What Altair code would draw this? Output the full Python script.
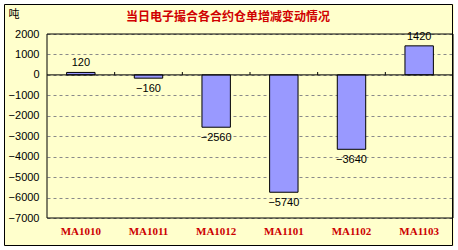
import altair as alt
import pandas as pd

# Warehouse-receipt changes per contract (tonnes)
contracts = ["MA1010", "MA1011", "MA1012", "MA1101", "MA1102", "MA1103"]
changes = [120, -160, -2560, -5740, -3640, 1420]
y_ticks = [-7000, -6000, -5000, -4000, -3000, -2000, -1000, 0, 1000, 2000]

title_text = "当日电子撮合各合约仓单增减变动情况"
unit_text = "吨"

W, H = 406, 184
BG = "#FFFFCC"
CJK = "Noto Sans CJK SC"

df = pd.DataFrame({"contract": contracts, "change": changes})
bounds_df = pd.DataFrame({"contract": contracts[1:], "lo": 0, "hi": 140})
zero_df = pd.DataFrame({"z": [0]})
one = pd.DataFrame({"k": [0]})
title_df = pd.DataFrame({"t": [title_text]})

x_scale = alt.Scale(domain=contracts, paddingInner=0, paddingOuter=0)
y_scale = alt.Scale(domain=[-7000, 2000], nice=False, zero=False)

x_enc = alt.X(
    "contract:N",
    scale=x_scale,
    sort=contracts,
    axis=alt.Axis(
        title=None, ticks=False, domain=False, grid=False, labelAngle=0,
        labelPadding=7, labelFont="Liberation Serif", labelFontWeight="bold",
        labelFontSize=11, labelColor="#CC0000",
    ),
)
y_axis = alt.Axis(
    values=y_ticks, format="d", ticks=False, domain=False, grid=True,
    gridDash=[3, 3], gridColor="#8a8a8a", labelPadding=8, labelOverlap=False,
    labelFont="Liberation Sans", labelFontSize=11, labelColor="black",
    title=unit_text, titleAngle=0, titleX=-39, titleY=-20,
    titleAlign="left", titleBaseline="middle", titleFont=CJK,
    titleFontSize=11, titleFontWeight="normal", titleColor="black",
)
y_enc = alt.Y("change:Q", scale=y_scale, axis=y_axis)

bars = alt.Chart(df).mark_bar(
    width={"band": 0.42}, fill="#9999FF", stroke="black", strokeWidth=1
).encode(x=x_enc, y=y_enc, y2=alt.datum(0))

zero_line = alt.Chart(zero_df).mark_rule(color="black", strokeWidth=1).encode(
    y=alt.Y("z:Q", scale=y_scale, axis=y_axis), x=alt.value(0), x2=alt.value(W)
)

# small upward ticks between categories on the zero line
sep_ticks = alt.Chart(bounds_df).mark_rule(color="black", strokeWidth=1).encode(
    x=alt.X("contract:N", scale=x_scale, sort=contracts, bandPosition=0),
    y=alt.Y("lo:Q", scale=y_scale, axis=y_axis),
    y2="hi:Q",
)

pos_labels = alt.Chart(df).transform_filter("datum.change >= 0").mark_text(
    baseline="bottom", dy=-4, font="Liberation Sans", fontSize=11, color="black"
).encode(x=x_enc, y=y_enc, text=alt.Text("change:Q", format="d"))

neg_labels = alt.Chart(df).transform_filter("datum.change < 0").mark_text(
    baseline="top", dy=5, font="Liberation Sans", fontSize=11, color="black"
).encode(x=x_enc, y=y_enc, text=alt.Text("change:Q", format="d"))

# plot-area border
plot_box = alt.Chart(one).mark_rect(
    fill="transparent", stroke="black", strokeWidth=1
).encode(x=alt.value(0), x2=alt.value(W), y=alt.value(0), y2=alt.value(H))

# white margin round the outer frame, then the frame itself
margin = alt.Chart(one).mark_rect(
    fill="transparent", stroke="white", strokeWidth=8
).encode(x=alt.value(-47), x2=alt.value(W + 5), y=alt.value(-34), y2=alt.value(H + 32))

frame = alt.Chart(one).mark_rect(
    fill="transparent", stroke="black", strokeWidth=1
).encode(x=alt.value(-42.5), x2=alt.value(W - 0.5), y=alt.value(-29.5), y2=alt.value(H + 27.5))

title = alt.Chart(title_df).mark_text(
    font=CJK, fontSize=12, fontWeight="bold", color="#D00000",
    align="center", baseline="middle",
).encode(x=alt.value(181), y=alt.value(-17), text="t:N")

chart = alt.layer(
    bars, zero_line, sep_ticks, pos_labels, neg_labels, plot_box, margin, frame, title
).properties(
    width=W,
    height=H,
    autosize=alt.AutoSizeParams(type="none"),
    padding={"left": 47, "top": 34, "right": 5, "bottom": 32},
    background=BG,
).configure_view(
    stroke=None, fill=BG
)

chart.save("out.html", embed_options={"renderer": "svg", "actions": False})
